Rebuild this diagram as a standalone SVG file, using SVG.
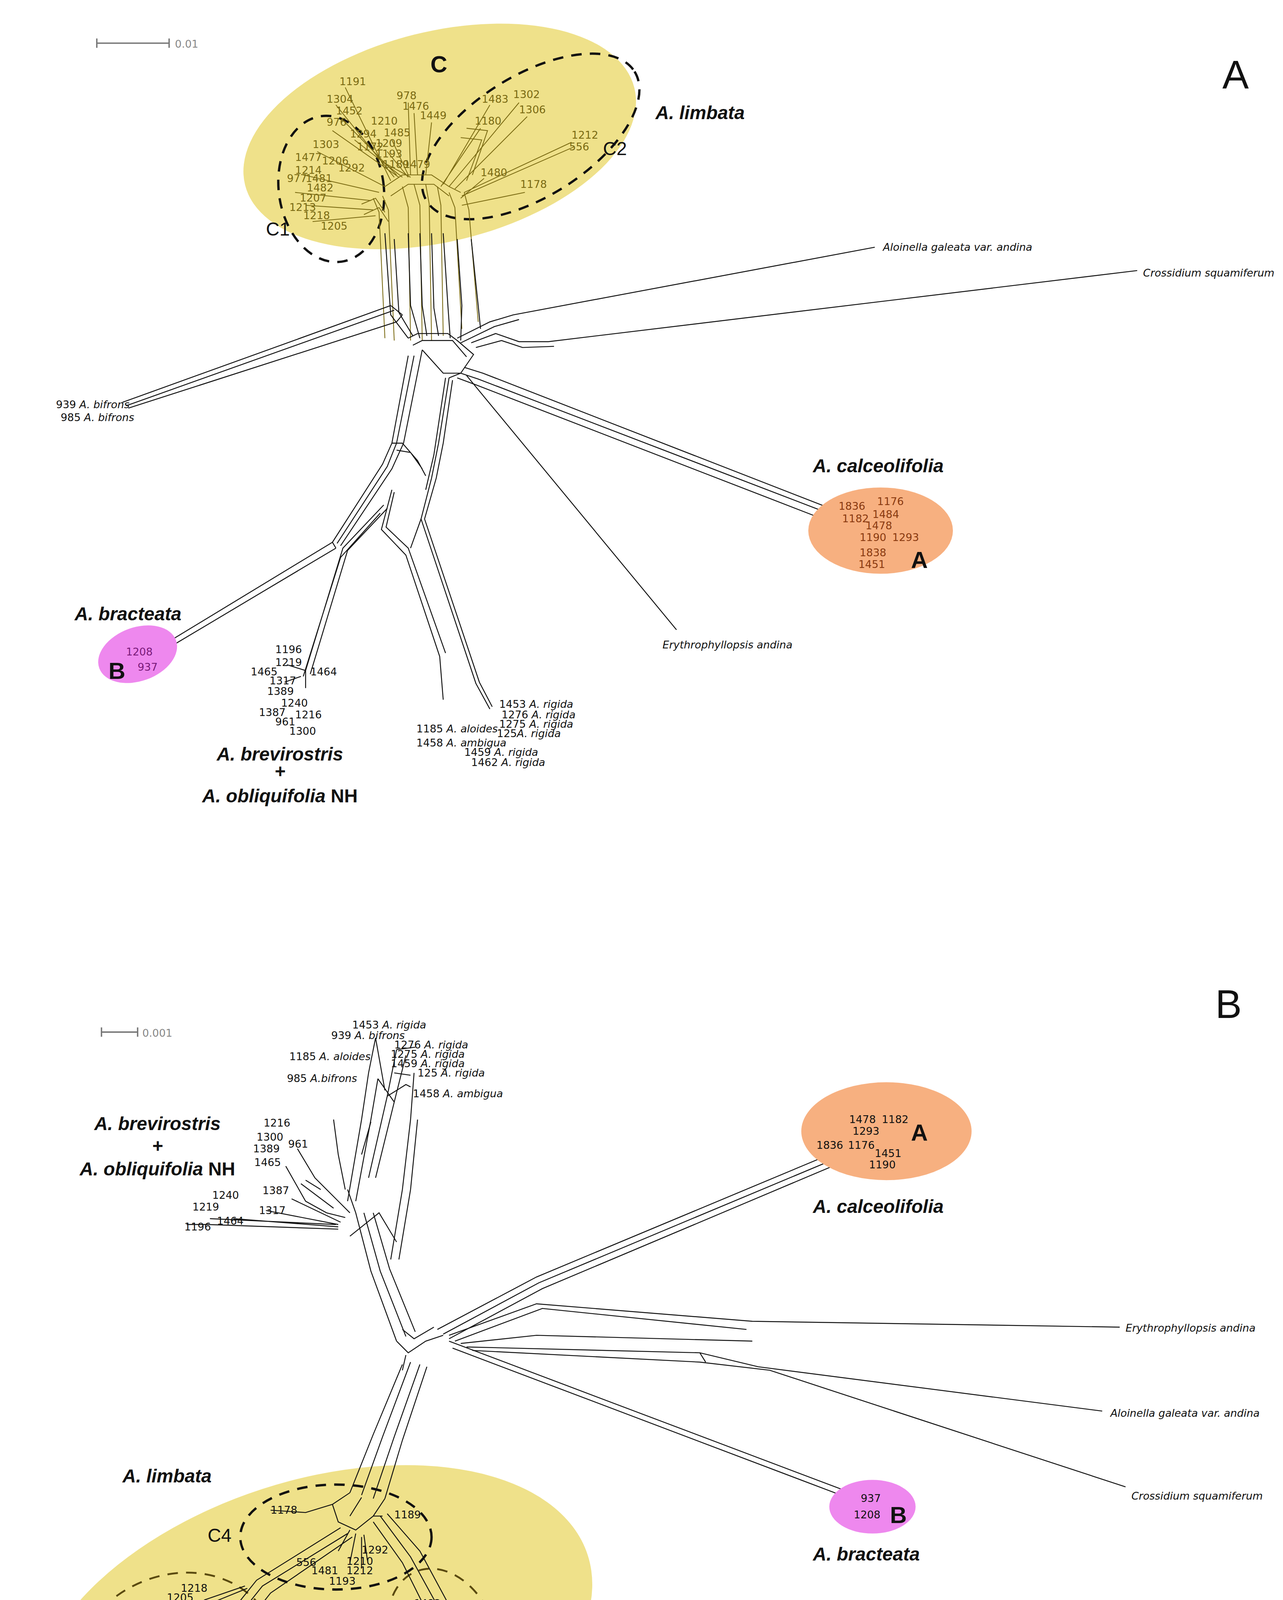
<svg xmlns="http://www.w3.org/2000/svg" width="3284" height="4640" viewBox="0 0 3284 4640">
<style>
.e{fill:none;stroke:#111;stroke-width:0.8}
.eo{fill:none;stroke:#7a6a12;stroke-width:0.7}
.t{font-family:"DejaVu Sans",sans-serif;font-size:9px;fill:#111}
.to{font-family:"DejaVu Sans",sans-serif;font-size:9px;fill:#7a6a12}
.ti{font-family:"DejaVu Sans",sans-serif;font-size:9px;fill:#111;font-style:italic}
.big{font-family:"Liberation Sans",Arial,sans-serif;font-size:16px;font-weight:bold;font-style:italic;fill:#111}
.let{font-family:"Liberation Sans",Arial,sans-serif;font-size:20px;font-weight:bold;fill:#111}
.sub{font-family:"Liberation Sans",Arial,sans-serif;font-size:16px;fill:#111}
.pan{font-family:"Liberation Sans",Arial,sans-serif;font-size:34px;fill:#111}
.dash{fill:none;stroke:#111;stroke-width:2;stroke-dasharray:9 7}
.dash2{fill:none;stroke:#5a4a10;stroke-width:1.6;stroke-dasharray:9 7}
.sc{stroke:#777;stroke-width:1.2}
.sct{font-family:"DejaVu Sans",sans-serif;font-size:9px;fill:#888}
</style>
<rect width="3284" height="4640" fill="#fff"/>
<g transform="scale(2.98545)">
<g id="panelA">
<g id="scaleA"><line class="sc" x1="83" y1="37" x2="145" y2="37"/><line class="sc" x1="83" y1="33" x2="83" y2="41"/><line class="sc" x1="145" y1="33" x2="145" y2="41"/><text class="sct" x="150" y="41">0.01</text></g>
<text class="pan" x="1048" y="76">A</text>
<g id="cladeC_A">
<ellipse cx="377" cy="117" rx="172" ry="90" transform="rotate(-14 377 117)" fill="#efe18a"/>
<ellipse cx="284" cy="162" rx="45" ry="63" transform="rotate(-8 284 162)" class="dash"/>
<ellipse cx="455" cy="117" rx="105" ry="52" transform="rotate(-32 455 117)" class="dash"/>
<text class="let" x="369" y="62">C</text>
<text class="sub" x="228" y="202">C1</text>
<text class="sub" x="517" y="133">C2</text>
<text class="big" x="562" y="102">A. limbata</text>
</g>
<g id="connectorsA">
<path class="eo" d="M320 170 L325 182 L330 290 M328 168 L333 180 L338 292 M345 160 L350 178 L352 292 M355 158 L360 176 L362 292 M365 158 L368 175 L370 292 M375 160 L378 176 L380 288 M385 165 L390 178 L396 282 M398 165 L402 180 L410 276"/>
<path class="eo" d="M330 160 L345 150 L370 150 L385 160 L395 165 M335 168 L350 158 L372 158 L385 168 M310 175 L322 170 L330 182 M312 184 L325 178 L333 190"/>
<path class="eo" d="M296 75 L335 155 M288 90 L338 152 M293 102 L340 150 M285 112 L342 152 M304 120 L345 152 M272 130 L330 160 M260 150 L325 165 M253 165 L318 172 M262 176 L320 180 M268 190 L322 185 M350 88 L352 150 M355 97 L358 150 M370 105 L365 150 M336 120 L350 150 M332 130 L350 152 M330 140 L352 152 M420 90 L380 158 M445 88 L385 160 M452 100 L390 162 M412 110 L378 160 M490 122 L398 165 M492 126 L396 168 M415 153 L395 170 M450 165 L396 176"/>
<path class="eo" d="M400 110 L418 112 L405 150 M395 118 L413 120 L400 155"/>
<path class="e" d="M330 200 L335 270 L350 290 M338 205 L342 268 L354 288 M350 200 L352 262 L360 290 M360 200 L362 262 L366 288 M370 200 L372 264 L376 288 M380 200 L384 262 L386 290 M392 205 L396 262 L395 292 M404 205 L410 262 L412 282"/>
<path class="e" d="M350 290 L358 286 L384 286 L392 292 L406 304 L395 320 L385 324 M354 296 L362 292 L388 292 L400 306 M362 300 L380 320 L395 320"/>
<!-- Aloinella / Crossidium -->
<path class="e" d="M392 290 L420 276 L440 270 L750 212 M395 294 L424 280 L445 274"/>
<path class="e" d="M404 294 L425 286 L445 293 L470 293 L975 232 M408 298 L430 292 L448 298 L475 297"/>
<!-- bifrons -->
<path class="e" d="M335 262 L105 345 M338 266 L108 348 M345 270 L340 276 L110 350 M335 262 L345 270"/>
<!-- calceolifolia -->
<path class="e" d="M395 320 L410 325 L710 440 M398 315 L414 320 L712 436 M392 324 L408 330 L708 446"/>
<!-- Erythrophyllopsis -->
<path class="e" d="M400 322 L580 540"/>
<!-- central downward -->
<path class="e" d="M350 305 L336 380 L328 398 L285 465 M355 305 L340 380 L332 400 L289 466 M362 300 L346 380 L336 402 L292 468"/>
<path class="e" d="M336 380 L345 380 L358 395 L365 408 M340 386 L352 388 L362 402"/>
<path class="e" d="M385 324 L376 380 L370 410 L361 445 L408 586 L420 608 M388 326 L380 380 L374 410 L364 445 L411 585 L422 606 M382 324 L372 390 L365 420"/>
<path class="e" d="M336 420 L327 454 L348 476 L377 563 L380 600 M338 422 L331 452 L350 470 L382 560 M361 445 L352 470"/>
<!-- bracteata -->
<path class="e" d="M285 465 L140 553 M288 470 L142 557 M285 465 L288 470"/>
<!-- brevirostris -->
<path class="e" d="M329 433 L294 470 L262 575 M332 436 L298 472 L266 578 M326 440 L292 478 L260 580 M262 575 L246 570 M258 580 L244 585 M262 575 L262 590"/>
</g>
<g id="labelsA_C">
<text class="to" x="291" y="73">1191</text><text class="to" x="280" y="88">1304</text><text class="to" x="288" y="98">1452</text><text class="to" x="280" y="108">976</text><text class="to" x="300" y="118">1294</text><text class="to" x="268" y="127">1303</text><text class="to" x="306" y="129">1172</text><text class="to" x="253" y="138">1477</text><text class="to" x="276" y="141">1206</text><text class="to" x="253" y="149">1214</text><text class="to" x="290" y="147">1292</text><text class="to" x="246" y="156">977</text><text class="to" x="262" y="156">1481</text><text class="to" x="263" y="164">1482</text><text class="to" x="257" y="173">1207</text><text class="to" x="248" y="181">1213</text><text class="to" x="260" y="188">1218</text><text class="to" x="275" y="197">1205</text>
<text class="to" x="340" y="85">978</text><text class="to" x="345" y="94">1476</text><text class="to" x="360" y="102">1449</text><text class="to" x="318" y="107">1210</text><text class="to" x="329" y="117">1485</text><text class="to" x="322" y="126">1209</text><text class="to" x="322" y="135">1193</text><text class="to" x="328" y="144">1189</text><text class="to" x="346" y="144">1479</text>
<text class="to" x="413" y="88">1483</text><text class="to" x="440" y="84">1302</text><text class="to" x="445" y="97">1306</text><text class="to" x="407" y="107">1180</text><text class="to" x="490" y="119">1212</text><text class="to" x="488" y="129">556</text><text class="to" x="412" y="151">1480</text><text class="to" x="446" y="161">1178</text>
</g>
<g id="outgroupsA">
<text class="ti" x="757" y="215">Aloinella galeata var. andina</text>
<text class="ti" x="980" y="237">Crossidium squamiferum</text>
<text class="t" x="48" y="350">939 <tspan font-style="italic">A. bifrons</tspan></text>
<text class="t" x="52" y="361">985 <tspan font-style="italic">A. bifrons</tspan></text>
<text class="ti" x="568" y="556">Erythrophyllopsis andina</text>
</g>
<g id="cladeA_A">
<ellipse cx="755" cy="455" rx="62" ry="37" fill="#f7b080"/>
<text class="big" x="697" y="405">A. calceolifolia</text>
<text class="let" x="781" y="487">A</text>
<g fill="#8a3a10" font-family="DejaVu Sans,sans-serif" font-size="9px">
<text x="719" y="437">1836</text><text x="752" y="433">1176</text><text x="722" y="448">1182</text><text x="748" y="444">1484</text><text x="742" y="454">1478</text><text x="737" y="464">1190</text><text x="765" y="464">1293</text><text x="737" y="477">1838</text><text x="736" y="487">1451</text>
</g>
</g>
<g id="cladeB_A">
<ellipse cx="118" cy="561" rx="35" ry="23" transform="rotate(-20 118 561)" fill="#ee88ee"/>
<text class="big" x="64" y="532">A. bracteata</text>
<text class="let" x="93" y="582">B</text>
<text x="108" y="562" font-family="DejaVu Sans,sans-serif" font-size="9px" fill="#7a1a7a">1208</text>
<text x="118" y="575" font-family="DejaVu Sans,sans-serif" font-size="9px" fill="#7a1a7a">937</text>
</g>
<g id="brevA">
<text class="t" x="236" y="560">1196</text><text class="t" x="236" y="571">1219</text><text class="t" x="215" y="579">1465</text><text class="t" x="266" y="579">1464</text><text class="t" x="231" y="587">1317</text><text class="t" x="229" y="596">1389</text><text class="t" x="241" y="606">1240</text><text class="t" x="222" y="614">1387</text><text class="t" x="253" y="616">1216</text><text class="t" x="236" y="622">961</text><text class="t" x="248" y="630">1300</text>
<text class="big" x="240" y="652" text-anchor="middle">A. brevirostris</text>
<text class="big" x="240" y="667" text-anchor="middle">+</text>
<text class="big" x="240" y="688" text-anchor="middle">A. obliquifolia <tspan font-style="normal">NH</tspan></text>
</g>
<g id="rigidaA">
<text class="t" x="428" y="607">1453 <tspan font-style="italic">A. rigida</tspan></text>
<text class="t" x="430" y="616">1276 <tspan font-style="italic">A. rigida</tspan></text>
<text class="t" x="428" y="624">1275 <tspan font-style="italic">A. rigida</tspan></text>
<text class="t" x="426" y="632">125<tspan font-style="italic">A. rigida</tspan></text>
<text class="t" x="357" y="628">1185 <tspan font-style="italic">A. aloides</tspan></text>
<text class="t" x="357" y="640">1458 <tspan font-style="italic">A. ambigua</tspan></text>
<text class="t" x="398" y="648">1459 <tspan font-style="italic">A. rigida</tspan></text>
<text class="t" x="404" y="657">1462 <tspan font-style="italic">A. rigida</tspan></text>
</g>
</g>
<g id="panelB">
<g id="scaleB"><line class="sc" x1="87" y1="885" x2="118" y2="885"/><line class="sc" x1="87" y1="881" x2="87" y2="889"/><line class="sc" x1="118" y1="881" x2="118" y2="889"/><text class="sct" x="122" y="889">0.001</text></g>
<text class="pan" x="1042" y="873">B</text>
<g id="cladeC_B">
<ellipse cx="268" cy="1410" rx="248" ry="140" transform="rotate(-18 268 1410)" fill="#efe18a"/>
<ellipse cx="288" cy="1318" rx="82" ry="45" class="dash"/>
<ellipse cx="148" cy="1435" rx="95" ry="82" transform="rotate(-35 148 1435)" class="dash2"/>
<ellipse cx="380" cy="1405" rx="45" ry="62" transform="rotate(-22 380 1405)" class="dash2"/>
<text class="big" x="105" y="1271">A. limbata</text>
<text class="let" x="282" y="1484">C</text>
<text class="sub" x="178" y="1322">C4</text>
<text class="sub" x="410" y="1389">C3</text>
<text class="sub" x="175" y="1523">C1</text>
</g>
<g id="connectorsB">
<path class="e" d="M340 1150 L318 1090 L305 1040 L298 1020 M348 1146 L326 1090 L312 1040 M356 1142 L334 1088 L320 1040 M300 1060 L325 1040 L340 1065"/>
<path class="e" d="M298 1030 L310 960 L316 920 L322 890 M305 1030 L318 960 L324 925 M316 1010 L332 940 L340 900 M322 1010 L338 945 L348 905 M335 1080 L345 1020 L352 960 L355 920 M342 1080 L352 1020 L358 960 M322 890 L330 935 M324 925 L338 945 M332 940 L348 930 L352 932 M340 900 L356 898 M338 920 L352 922"/>
<path class="e" d="M286 960 L290 990 L296 1020 M318 962 L310 990"/>
<path class="e" d="M300 1040 L290 1030 L270 1010 L255 985 M296 1044 L280 1040 L262 1030 L245 1000 M292 1048 L250 1028 M290 1050 L228 1038 M290 1052 L200 1045 M290 1054 L178 1050 L160 1050 M288 1050 L180 1045 M275 1020 L262 1012 M286 1036 L258 1015"/>
<path class="e" d="M340 1150 L350 1160 L365 1150 L380 1145 M345 1140 L355 1148 L372 1138 M348 1162 L345 1175"/>
<path class="e" d="M375 1140 L460 1095 L740 978 M380 1144 L462 1100 L744 982 M385 1148 L465 1105 L747 986"/>
<path class="e" d="M385 1145 L460 1118 L645 1133 L960 1138 M390 1150 L465 1122 L640 1140 M395 1152 L460 1145 L645 1150 M400 1155 L600 1160 L650 1172 L945 1210 M405 1158 L600 1168 L660 1175 L965 1275 M600 1160 L605 1168"/>
<path class="e" d="M385 1150 L740 1284 M388 1156 L742 1290"/>
<path class="e" d="M345 1170 L320 1230 L300 1280 M352 1168 L328 1232 L310 1282 M360 1170 L338 1232 L320 1285 M366 1172 L345 1235 L330 1285"/>
<path class="e" d="M300 1280 L285 1290 L290 1305 L305 1312 L320 1300 L330 1285 M310 1284 L300 1300 M285 1290 L262 1297 L232 1295"/>
<path class="e" d="M292 1310 L220 1355 L140 1455 L115 1495 M298 1315 L225 1360 L145 1460 L120 1497 M302 1318 L232 1366 L150 1470 L128 1500 M145 1460 L150 1470 M210 1360 L175 1372 M212 1362 L180 1375"/>
<path class="e" d="M320 1305 L345 1340 L375 1400 L382 1438 M326 1300 L352 1335 L385 1395 L392 1430 M332 1298 L360 1330 L395 1395 M365 1375 L378 1375 M375 1400 L390 1402"/>
<path class="e" d="M300 1312 L290 1330 M305 1315 L300 1340 M310 1318 L310 1345 M312 1316 L315 1338 M320 1300 L328 1300"/>
</g>
<g id="labelsB_top">
<text class="t" x="302" y="882">1453 <tspan font-style="italic">A. rigida</tspan></text>
<text class="t" x="284" y="891">939 <tspan font-style="italic">A. bifrons</tspan></text>
<text class="t" x="338" y="899">1276 <tspan font-style="italic">A. rigida</tspan></text>
<text class="t" x="335" y="907">1275 <tspan font-style="italic">A. rigida</tspan></text>
<text class="t" x="335" y="915">1459 <tspan font-style="italic">A. rigida</tspan></text>
<text class="t" x="248" y="909">1185 <tspan font-style="italic">A. aloides</tspan></text>
<text class="t" x="358" y="923">125 <tspan font-style="italic">A. rigida</tspan></text>
<text class="t" x="246" y="928">985 <tspan font-style="italic">A.bifrons</tspan></text>
<text class="t" x="354" y="941">1458 <tspan font-style="italic">A. ambigua</tspan></text>
</g>
<g id="brevB">
<text class="big" x="135" y="969" text-anchor="middle">A. brevirostris</text>
<text class="big" x="135" y="988" text-anchor="middle">+</text>
<text class="big" x="135" y="1008" text-anchor="middle">A. obliquifolia <tspan font-style="normal">NH</tspan></text>
<text class="t" x="226" y="966">1216</text><text class="t" x="220" y="978">1300</text><text class="t" x="247" y="984">961</text><text class="t" x="217" y="988">1389</text><text class="t" x="218" y="1000">1465</text><text class="t" x="225" y="1024">1387</text><text class="t" x="182" y="1028">1240</text><text class="t" x="165" y="1038">1219</text><text class="t" x="222" y="1041">1317</text><text class="t" x="186" y="1050">1464</text><text class="t" x="158" y="1055">1196</text>
</g>
<g id="cladeA_B">
<ellipse cx="760" cy="970" rx="73" ry="42" fill="#f7b080"/>
<text class="let" x="781" y="978">A</text>
<text class="big" x="697" y="1040">A. calceolifolia</text>
<text class="t" x="728" y="963">1478</text><text class="t" x="756" y="963">1182</text><text class="t" x="731" y="973">1293</text><text class="t" x="700" y="985">1836</text><text class="t" x="727" y="985">1176</text><text class="t" x="750" y="992">1451</text><text class="t" x="745" y="1002">1190</text>
</g>
<g id="outgroupsB">
<text class="ti" x="965" y="1142">Erythrophyllopsis andina</text>
<text class="ti" x="952" y="1215">Aloinella galeata var. andina</text>
<text class="ti" x="970" y="1286">Crossidium squamiferum</text>
</g>
<g id="cladeB_B">
<ellipse cx="748" cy="1292" rx="37" ry="23" fill="#ee88ee"/>
<text class="t" x="738" y="1288">937</text><text class="t" x="732" y="1302">1208</text>
<text class="let" x="763" y="1306" fill="#5a0a5a">B</text>
<text class="big" x="697" y="1338">A. bracteata</text>
</g>
<g id="labelsB_C">
<text class="t" x="232" y="1298">1178</text><text class="t" x="338" y="1302">1189</text><text class="t" x="310" y="1332">1292</text><text class="t" x="254" y="1343">556</text><text class="t" x="297" y="1342">1210</text><text class="t" x="267" y="1350">1481</text><text class="t" x="297" y="1350">1212</text><text class="t" x="282" y="1359">1193</text>
<text class="t" x="155" y="1365">1218</text><text class="t" x="143" y="1373">1205</text><text class="t" x="168" y="1379">1213</text>
<text class="t" x="355" y="1378">1483</text><text class="t" x="338" y="1403">1191</text><text class="t" x="392" y="1413">1294</text><text class="t" x="383" y="1424">1304</text><text class="t" x="368" y="1438">1172</text><text class="t" x="373" y="1449">1306</text>
<text class="t" x="67" y="1482">1207</text><text class="t" x="126" y="1482">1302</text><text class="t" x="67" y="1494">1303</text><text class="t" x="118" y="1496">1482</text><text class="t" x="80" y="1504">1206</text><text class="t" x="103" y="1507">977</text>
</g>
</g>
</g>
</svg>
